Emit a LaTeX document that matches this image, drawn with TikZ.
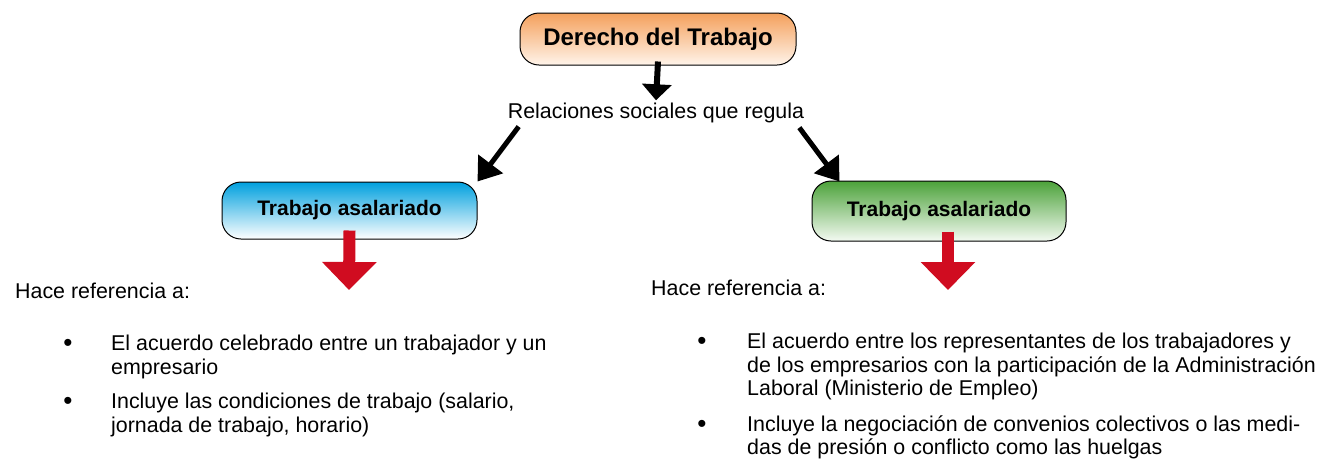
\documentclass[tikz,border=0pt]{standalone}
\usepackage{fontspec}
\setmainfont{Liberation Sans}
\usetikzlibrary{arrows.meta}
\definecolor{orangetop}{RGB}{244,160,92}
\definecolor{orangebot}{RGB}{255,244,234}
\definecolor{bluetop}{RGB}{0,160,222}
\definecolor{greentop}{RGB}{76,162,58}
\definecolor{greenbot}{RGB}{244,250,242}
\definecolor{arrowred}{RGB}{208,12,32}
\tikzset{
  box/.style={draw=black, line width=1pt, rounded corners=19pt, font=\fontsize{21}{24}\selectfont\bfseries, inner sep=0pt},
  bigbox/.style={box, font=\fontsize{24}{28}\selectfont\bfseries},
  blackarrow/.style={draw=black, line width=5pt, -{Triangle[length=22pt,width=30pt]}},
  downarrow/.style={draw=black, line width=6pt, -{Triangle[length=16pt,width=29pt]}},
  redarrow/.style={draw=arrowred, line width=12pt, -{Triangle[length=28pt,width=53pt]}},
  txt/.style={font=\fontsize{21.4}{24}\selectfont, inner sep=0pt, anchor=base west},
  bul/.style={font=\fontsize{26}{28}\selectfont, inner sep=0pt, anchor=base},
}
\begin{document}
\begin{tikzpicture}[x=1pt,y=-1pt]
\useasboundingbox (0,0) rectangle (1325,459);
% boxes
\node[bigbox, top color=orangetop, bottom color=orangebot, minimum width=276pt, minimum height=52pt] (title) at (658,39) {Derecho del Trabajo};
\node[box, top color=bluetop, bottom color=white, minimum width=255pt, minimum height=57pt] (lbox) at (349.5,210.5) {Trabajo asalariado};
\node[box, top color=greentop, bottom color=greenbot, minimum width=254pt, minimum height=60pt] (rbox) at (939,211) {Trabajo asalariado};
% middle label
\node[font=\fontsize{21.4}{24}\selectfont, inner sep=2pt, anchor=base] (rel) at (656,118) {Relaciones sociales que regula};
% connectors
\draw[downarrow] ([yshift=4pt]title.south) -- (rel.north);
\draw[blackarrow] ([xshift=13pt,yshift=-2pt]rel.south west) -- (lbox.north east);
\draw[blackarrow] ([xshift=-7pt,yshift=-3pt]rel.south east) -- ([xshift=28pt,yshift=-1pt]rbox.north west);
\coordinate (ltip) at (349,290);
\coordinate (rtip) at (948,290);
\draw[redarrow] ([yshift=9pt]lbox.south) -- (ltip);
\draw[redarrow] ([xshift=9pt,yshift=10pt]rbox.south) -- (rtip);
% left text
\node[txt] (lh) at (15,298) {Hace referencia a:};
\node[bul] (lb1) at (68,351) {\textbullet};
\node[txt] (l1a) at (111,350) {El acuerdo celebrado entre un trabajador y un};
\node[txt] (l1b) at (111,374) {empresario};
\node[bul] (lb2) at (68,409) {\textbullet};
\node[txt] (l2a) at (111,408) {Incluye las condiciones de trabajo (salario,};
\node[txt] (l2b) at (111,432) {jornada de trabajo, horario)};
% right text
\node[txt] (rh) at (651,295) {Hace referencia a:};
\node[bul] (rb1) at (702,349) {\textbullet};
\node[txt] (r1a) at (747,348) {El acuerdo entre los representantes de los trabajadores y};
\node[txt] (r1b) at (747,372) {de los empresarios con la participación de la Administración};
\node[txt] (r1c) at (747,395) {Laboral (Ministerio de Empleo)};
\node[bul] (rb2) at (702,432) {\textbullet};
\node[txt] (r2a) at (747,431) {Incluye la negociación de convenios colectivos o las medi-};
\node[txt] (r2b) at (747,454) {das de presión o conflicto como las huelgas};
\end{tikzpicture}
\end{document}
